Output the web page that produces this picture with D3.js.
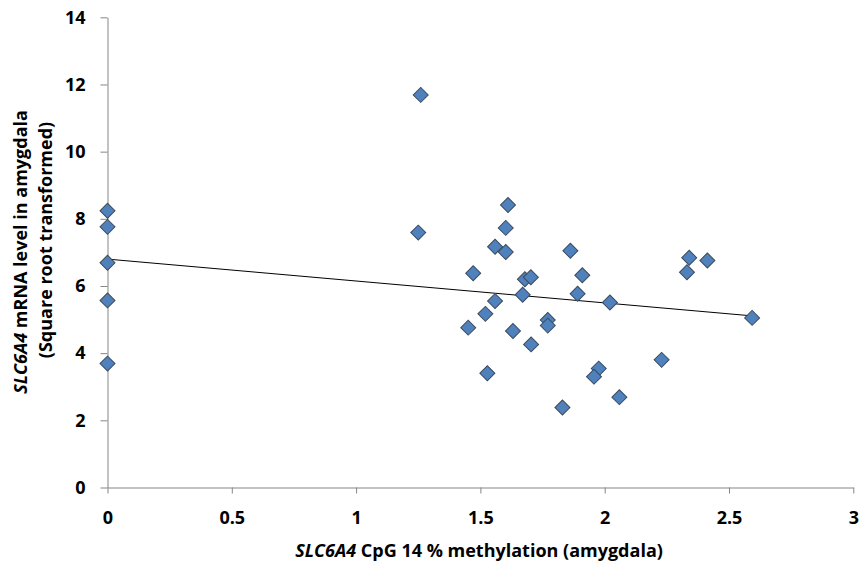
<!DOCTYPE html>
<html>
<head>
<meta charset="utf-8">
<script src="https://cdn.jsdelivr.net/npm/d3@7"></script>
<style>
    body { margin: 0; background: #fff; }
    svg { display: block; }
    .axis path, .axis line { stroke: #868686; }
    .axis text { font-family: "Open Sans", sans-serif; font-weight: bold; font-size: 18px; fill: #000; }
    .label { font-family: "Open Sans", sans-serif; font-weight: bold; font-size: 18px; fill: #000; }
</style>
</head>
<body>
<svg id="chart" width="863" height="567"></svg>
<script>
// methylation % (x) and sqrt mRNA level (y)
const methylation = [0, 0, 0, 0, 0,
    1.26, 1.611, 1.602, 1.25, 1.559, 1.602, 1.862,
    1.471, 1.679, 1.703, 1.910, 1.670, 1.891, 2.021, 1.559, 1.520, 1.451,
    1.631, 1.771, 1.771, 1.704, 1.528, 2.229, 1.976, 1.957, 2.059, 1.830,
    2.340, 2.413, 2.331, 2.593];
const mrna = [8.24, 7.76, 6.69, 5.57, 3.69,
    11.69, 8.41, 7.73, 7.59, 7.17, 7.01, 7.05,
    6.38, 6.20, 6.26, 6.32, 5.74, 5.77, 5.51, 5.55, 5.17, 4.76,
    4.66, 4.99, 4.82, 4.26, 3.40, 3.80, 3.54, 3.30, 2.69, 2.38,
    6.84, 6.76, 6.41, 5.05];

// linear trendline endpoints (x, y)
const trendX = [0, 2.593];
const trendY = [6.80, 5.11];

const xTicks = [0, 0.5, 1, 1.5, 2, 2.5, 3];
const yTicks = [0, 2, 4, 6, 8, 10, 12, 14];

const plotLeft = 107.5, plotRight = 853.3, plotTop = 17.3, plotBottom = 487.5;

let svg = d3.select("#chart");

let x = d3.scaleLinear().domain([0, 3]).range([plotLeft, plotRight]);
let y = d3.scaleLinear().domain([0, 14]).range([plotBottom, plotTop]);

// X axis
let xAxis = svg.append("g")
    .attr("class", "axis")
    .attr("transform", "translate(0," + plotBottom + ")")
    .call(d3.axisBottom(x).tickValues(xTicks).tickSize(6).tickSizeOuter(0)
        .tickFormat(d => d));
xAxis.selectAll("text").attr("y", 36).attr("dy", 0);

// Y axis
let yAxis = svg.append("g")
    .attr("class", "axis")
    .attr("transform", "translate(" + plotLeft + ",0)")
    .call(d3.axisLeft(y).tickValues(yTicks).tickSize(7).tickSizeOuter(0));
yAxis.selectAll("text").attr("x", -22);

// trendline
svg.append("line")
    .attr("x1", x(trendX[0])).attr("y1", y(trendY[0]))
    .attr("x2", x(trendX[1])).attr("y2", y(trendY[1]))
    .attr("stroke", "#000")
    .attr("stroke-width", 1);

// points
let diamond = d3.symbol().type(d3.symbolSquare).size(112);
svg.append("g")
    .selectAll("path")
    .data(methylation.map((m, i) => [m, mrna[i]]))
    .enter().append("path")
    .attr("d", diamond)
    .attr("transform", d => "translate(" + x(d[0]) + "," + y(d[1]) + ") rotate(45)")
    .attr("fill", "#4F81BD")
    .attr("stroke", "#3c4a5c")
    .attr("stroke-width", 1);

// X-axis title
let xt = svg.append("text")
    .attr("class", "label")
    .attr("text-anchor", "middle")
    .attr("x", 479)
    .attr("y", 557);
xt.append("tspan").attr("font-style", "italic").text("SLC6A4");
xt.append("tspan").text(" CpG 14 % methylation (amygdala)");

// Y-axis title
let yt = svg.append("text")
    .attr("class", "label")
    .attr("text-anchor", "middle")
    .attr("transform", "translate(27,252) rotate(-90)");
yt.append("tspan").attr("font-style", "italic").text("SLC6A4");
yt.append("tspan").text(" mRNA level in amygdala");
svg.append("text")
    .attr("class", "label")
    .attr("text-anchor", "middle")
    .attr("transform", "translate(52,240) rotate(-90)")
    .text("(Square root transformed)");
</script>
</body>
</html>
